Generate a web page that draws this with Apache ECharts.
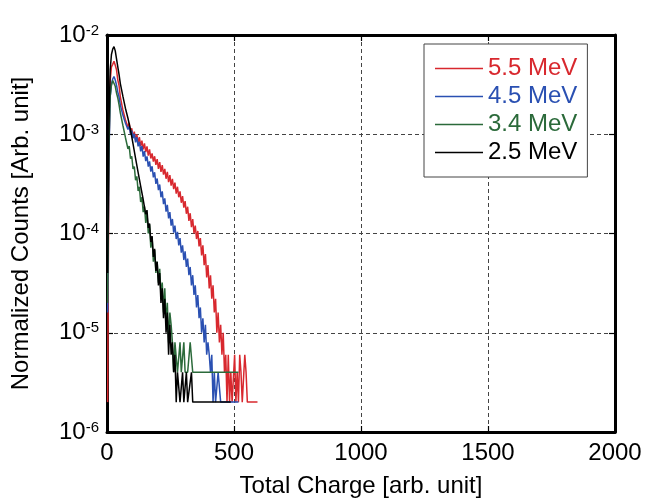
<!DOCTYPE html>
<html>
<head>
<meta charset="utf-8">
<script src="https://cdn.jsdelivr.net/npm/echarts@6/dist/echarts.min.js"></script>
<style>
  html, body { margin: 0; padding: 0; background: #ffffff; }
  #chart { width: 645px; height: 498px; }
</style>
</head>
<body>
<div id="chart"></div>
<script>
// Charge histograms, 5-unit bins starting at 0; raw counts per bin.
const binWidth = 5;
const seriesNames = ['5.5 MeV', '4.5 MeV', '3.4 MeV', '2.5 MeV'];

const counts55 = [
  1, 310, 1740, 2390, 2530, 2720, 2480, 2230, 1760, 1550,
  1190, 1150, 880, 910, 700, 720, 590, 650, 515, 575,
  462, 531, 440, 497, 412, 468, 380, 431, 352, 405,
  330, 378, 304, 352, 285, 320, 265, 300, 246, 281,
  224, 262, 209, 244, 196, 224, 178, 209, 165, 194,
  152, 178, 140, 163, 126, 148, 116, 133, 102, 119,
  91, 106, 79, 93, 67, 80, 58, 70, 50, 60,
  44, 53, 37, 45, 30, 38, 24, 31, 18, 24,
  14, 19, 11, 15, 8, 11, 5, 8, 4, 6,
  3, 5, 2, 3, 1, 3, 1, 2, 1, 1,
  3, 1, 2, 1, 3, 2, 1, 0, 3, 2,
  1, 0, 1, 1, 0, 1, 1, 0, 1
];
const counts45 = [
  8, 280, 1190, 1600, 1800, 1910, 1760, 1560, 1330, 1185,
  990, 970, 780, 800, 650, 680, 560, 600, 505, 545,
  455, 505, 415, 468, 378, 420, 336, 381, 298, 338,
  268, 299, 236, 266, 210, 238, 184, 207, 158, 179,
  137, 156, 116, 133, 99, 113, 83, 97, 71, 82,
  60, 70, 51, 60, 44, 52, 38, 45, 32, 38,
  27, 33, 23, 28, 19, 23, 15, 19, 12, 15,
  9, 12, 7, 9, 5, 7, 4, 6, 3, 4,
  3, 2, 3, 1, 2, 1, 1, 2, 0, 1,
  1, 0, 1, 1, 0, 0, 1, 0, 0, 0,
  0, 0, 0, 1
];
const counts34 = [
  5, 190, 600, 780, 870, 845, 760, 650, 580, 495,
  410, 405, 308, 310, 232, 236, 178, 190, 142, 150,
  112, 118, 86, 94, 67, 74, 52, 58, 41, 47,
  32, 40, 25, 31, 18, 23, 13, 17, 10, 13,
  8, 11, 6, 8, 4, 7, 3, 5, 2, 4,
  3, 2, 1, 2, 2, 1, 1, 2, 1, 1,
  2, 1, 0, 1, 1, 2, 0, 1, 0, 1,
  1, 0, 1, 0, 0, 1, 0, 0, 0, 0,
  0, 0, 0, 0, 0, 0, 0, 0, 0, 0,
  0, 0, 0, 0, 0, 0, 0, 0, 0, 0,
  0, 0, 0, 1
];
const counts25 = [
  20, 620, 2230, 3180, 3600, 3820, 3460, 2880, 2390, 1990,
  1620, 1560, 1210, 1190, 915, 925, 725, 740, 555, 535,
  400, 395, 285, 290, 206, 214, 150, 157, 110, 115,
  78, 86, 57, 63, 41, 47, 29, 35, 21, 26,
  15, 20, 10, 14, 7, 11, 5, 8, 3, 6,
  3, 4, 2, 3, 1, 2, 2, 1, 1, 2,
  1, 1, 2, 1, 1, 0, 2, 1, 1, 0,
  1, 1, 0, 1, 0, 1, 1, 0, 1, 1,
  0, 0, 1, 0, 0, 0, 0, 0, 0, 0,
  0, 0, 0, 0, 0, 0, 0, 1
];
// Per-count normalization of each run (1 / total events)
const norm55 = 2e-6;
const norm45 = 2e-6;
const norm34 = 4e-6;
const norm25 = 2e-6;

const xTicks = [0, 500, 1000, 1500, 2000];
const yRange = [1e-6, 1e-2];

const colors = ['#d8282e', '#2a50b2', '#2b6a3a', '#000000'];
const FONT = 'Liberation Sans, Arial, sans-serif';

// empty bins have no place on a log axis, so they are left out
function toPoints(counts, norm) {
  const pts = [];
  counts.forEach((c, i) => {
    if (c > 0) pts.push([binWidth * (i + 0.5), c * norm]);
  });
  return pts;
}

const seriesData = [
  toPoints(counts55, norm55),
  toPoints(counts45, norm45),
  toPoints(counts34, norm34),
  toPoints(counts25, norm25)
];

const chart = echarts.init(document.getElementById('chart'), null, { renderer: 'canvas' });

const frameLine = { show: true, onZero: false, lineStyle: { color: '#000', width: 3 } };
const innerTick = { show: true, inside: true, length: 6, lineStyle: { color: '#000', width: 1.2 } };
const dashedSplit = { show: true, lineStyle: { color: '#444', width: 1, type: [4, 3] } };

chart.setOption({
  animation: false,
  backgroundColor: '#ffffff',
  textStyle: { fontFamily: FONT },
  grid: { left: 107, right: 30, top: 35, bottom: 66, containLabel: false, outerBoundsMode: 'none' },
  legend: {
    orient: 'vertical',
    left: 424,
    top: 44,
    padding: [12, 10, 12, 11],
    backgroundColor: '#ffffff',
    borderColor: '#444',
    borderWidth: 1,
    borderRadius: 0,
    icon: 'rect',
    itemWidth: 48,
    itemHeight: 1.4,
    itemGap: 3,
    textStyle: { fontSize: 24, lineHeight: 25, fontFamily: FONT },
    data: seriesNames.map((n, i) => ({ name: n, textStyle: { color: colors[i] } }))
  },
  xAxis: [
    {
      type: 'value',
      position: 'bottom',
      min: xTicks[0],
      max: xTicks[xTicks.length - 1],
      interval: 500,
      name: 'Total Charge [arb. unit]',
      nameLocation: 'middle',
      nameGap: 42,
      nameTextStyle: { fontSize: 24, color: '#000', fontFamily: FONT },
      axisLine: frameLine,
      axisTick: innerTick,
      axisLabel: { fontSize: 24, color: '#000', margin: 9, fontFamily: FONT, formatter: v => String(v) },
      splitLine: dashedSplit
    },
    {
      type: 'value',
      position: 'top',
      min: xTicks[0],
      max: xTicks[xTicks.length - 1],
      interval: 500,
      axisLine: frameLine,
      axisTick: innerTick,
      axisLabel: { show: false },
      splitLine: { show: false }
    }
  ],
  yAxis: [
    {
      type: 'log',
      logBase: 10,
      position: 'left',
      min: yRange[0],
      max: yRange[1],
      name: 'Normalized Counts [Arb. unit]',
      nameLocation: 'middle',
      nameGap: 74,
      nameTextStyle: { fontSize: 24, color: '#000', fontFamily: FONT },
      axisLine: frameLine,
      axisTick: innerTick,
      axisLabel: {
        margin: 8,
        formatter: v => '{b|10}{s|' + Math.round(Math.log10(v)) + '}',
        rich: {
          b: { fontSize: 24, color: '#000', fontFamily: FONT },
          s: { fontSize: 15, color: '#000', fontFamily: FONT, verticalAlign: 'top' }
        }
      },
      splitLine: dashedSplit
    },
    {
      type: 'log',
      logBase: 10,
      position: 'right',
      min: yRange[0],
      max: yRange[1],
      axisLine: frameLine,
      axisTick: innerTick,
      axisLabel: { show: false },
      splitLine: { show: false }
    }
  ],
  series: seriesData.map((d, i) => ({
    name: seriesNames[i],
    type: 'line',
    data: d,
    xAxisIndex: 0,
    yAxisIndex: 0,
    symbol: 'none',
    clip: true,
    color: colors[i],
    lineStyle: { color: colors[i], width: 1.5 },
    z: 2 + i
  }))
});
</script>
</body>
</html>
